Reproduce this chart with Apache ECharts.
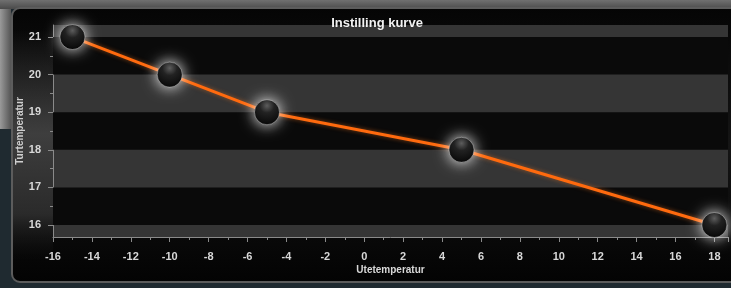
<!DOCTYPE html>
<html><head><meta charset="utf-8">
<script src="https://cdn.jsdelivr.net/npm/echarts@6/dist/echarts.min.js"></script>
<style>html,body{margin:0;padding:0;background:#1f2a30;}#c{width:731px;height:288px;}</style>
</head><body><div id="c"></div>
<script>
const titleText = 'Instilling kurve';
const xName = 'Utetemperatur';
const yName = 'Turtemperatur';
const outdoorTemps = [-15, -10, -5, 5, 18];
const indoorTemps = [21, 20, 19, 18, 16];
const yTicks = [16, 17, 18, 19, 20, 21];
const yMinorTicks = [15.5, 16.5, 17.5, 18.5, 19.5, 20.5, 21.5].filter(v => v > 15.68 && v < 21.32);

const chart = echarts.init(document.getElementById('c'), null, {renderer: 'canvas'});
const points = outdoorTemps.map((x, i) => [x, indoorTemps[i]]);
const labelFont = {color: '#d8d8d8', fontWeight: 'bold', fontSize: 11, fontFamily: 'Liberation Sans, Arial, sans-serif'};
const darkBands = [];
for (let i = 0; i + 1 < yTicks.length; i += 2) darkBands.push([{yAxis: yTicks[i]}, {yAxis: yTicks[i + 1]}]);

chart.setOption({
  animation: false,
  backgroundColor: '#1f2a30',
  graphic: [
    {type: 'rect', z: -10, shape: {x: 0, y: 0, width: 731, height: 9}, style: {fill: new echarts.graphic.LinearGradient(0,0,0,1,[{offset:0,color:'#707070'},{offset:1,color:'#4a4a4a'}])}},
    {type: 'rect', z: -10, shape: {x: 0, y: 9, width: 11, height: 120}, style: {fill: new echarts.graphic.LinearGradient(0,0,1,0,[{offset:0,color:'#9a9a9a'},{offset:1,color:'#555'}])}},
    {type: 'rect', z: -9, shape: {x: 12, y: 8, width: 740, height: 274, r: 8},
      style: {fill: new echarts.graphic.LinearGradient(0,0,0,1,[{offset:0,color:'#050505'},{offset:0.5,color:'#151515'},{offset:1,color:'#030303'}]), stroke: '#5c5c5c', lineWidth: 2}},
    {type: 'rect', z: -8, silent: true, shape: {x: 13, y: 30, width: 40, height: 230},
      style: {fill: new echarts.graphic.LinearGradient(0,0,0,1,[{offset:0,color:'rgba(60,60,60,0)'},{offset:0.45,color:'rgba(62,62,62,1)'},{offset:0.8,color:'rgba(50,50,50,0.8)'},{offset:1,color:'rgba(20,20,20,0)'}])}}
  ],
  title: {
    text: titleText, left: 372, top: 12, textAlign: 'center',
    textStyle: {color: '#f2f2f2', fontWeight: 'bold', fontSize: 13, fontFamily: 'Liberation Sans, Arial, sans-serif'}
  },
  grid: {left: 53, right: 3, top: 25, bottom: 51, containLabel: false, outerBoundsMode: 'none',
    show: true, backgroundColor: '#353535', borderWidth: 0},
  xAxis: {
    type: 'value', min: -16, max: 18.7, interval: 2,
    name: xName, nameLocation: 'middle', nameGap: 28, nameMoveOverlap: false,
    nameTextStyle: {color: '#d8d8d8', fontWeight: 'bold', fontSize: 10, fontFamily: 'Liberation Sans, Arial, sans-serif'},
    axisLine: {show: true, onZero: false, lineStyle: {color: '#8a8a8a', width: 1}},
    axisTick: {show: true, inside: false, length: 5, lineStyle: {color: '#8a8a8a'}},
    minorTick: {show: true, splitNumber: 2, length: 3, lineStyle: {color: '#8a8a8a'}},
    axisLabel: Object.assign({margin: 14, showMaxLabel: false}, labelFont),
    splitLine: {show: false}
  },
  yAxis: [{
    type: 'value', min: 15.68, max: 21.32,
    name: yName, nameLocation: 'middle', nameGap: 28, nameRotate: 90, nameMoveOverlap: false,
    nameTextStyle: {color: '#cfcfcf', fontWeight: 'bold', fontSize: 10, fontFamily: 'Liberation Sans, Arial, sans-serif'},
    axisLine: {show: true, onZero: false, lineStyle: {color: '#8a8a8a', width: 1}},
    axisTick: {show: true, length: 5, customValues: yTicks, lineStyle: {color: '#8a8a8a'}},
    axisLabel: Object.assign({margin: 12, customValues: yTicks}, labelFont),
    splitLine: {show: false},
    splitArea: {show: false}
  }, {
    type: 'value', min: 15.68, max: 21.32, position: 'left',
    axisLine: {show: false, onZero: false},
    axisTick: {show: true, length: 3, customValues: yMinorTicks, lineStyle: {color: '#8a8a8a'}},
    axisLabel: {show: false},
    splitLine: {show: false}
  }],
  series: [{
    type: 'line',
    data: points,
    symbol: 'circle',
    symbolSize: 25,
    lineStyle: {color: '#ff6a0e', width: 3, shadowColor: 'rgba(255,120,30,0.5)', shadowBlur: 4},
    itemStyle: {
      color: new echarts.graphic.RadialGradient(0.5, 0.25, 0.8, [
        {offset: 0, color: '#5a5a5a'}, {offset: 0.35, color: '#1e1e1e'}, {offset: 1, color: '#000'}]),
      borderColor: 'rgba(255,255,255,0.35)', borderWidth: 1,
      shadowColor: 'rgba(255,255,255,1)', shadowBlur: 15
    },
    markArea: {silent: true, itemStyle: {color: '#0a0a0a'}, data: darkBands},
    z: 5
  }]
});
</script></body></html>
